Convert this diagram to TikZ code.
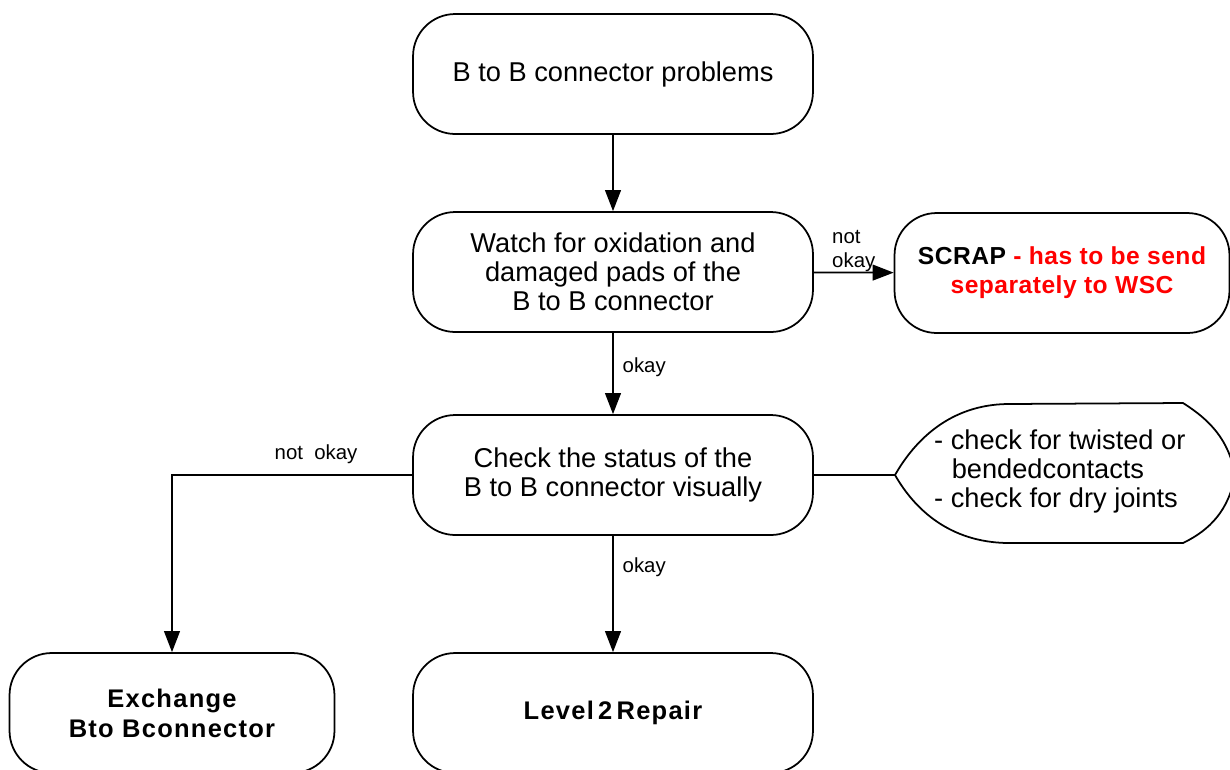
\documentclass[tikz,border=0pt]{standalone}
\usepackage{fontspec}
\setmainfont{Liberation Sans}
\usetikzlibrary{positioning,arrows.meta}

\begin{document}
\begin{tikzpicture}[x=0.02cm,y=-0.02cm]
	\tikzset{every node/.style={font=\fontsize{15.5}{16.5}\selectfont}}
	\tikzset{flowbox/.style={draw,line width=1pt,rounded corners=24pt,align=center,minimum width=8cm,minimum height=2.4cm,inner sep=2pt}}
	\tikzset{boldtxt/.style={font=\fontsize{14.5}{17}\selectfont\bfseries\addfontfeatures{LetterSpace=5}}}
	\tikzset{lbl/.style={font=\fontsize{11.6}{13.5}\selectfont,inner sep=1pt}}
	\tikzset{flow/.style={line width=1pt,-{Triangle[length=12pt,width=9pt]}}}
	\useasboundingbox (0,0) rectangle (1230,769);
	\node[flowbox] (problems) at (613,74) {B to B connector problems};
	\node[flowbox] (watch) at (613,272) {Watch for oxidation and\\damaged pads of the\\B to B connector};
	\node[flowbox,minimum width=6.7cm,font=\fontsize{14}{16.5}\selectfont\bfseries\addfontfeatures{LetterSpace=2}] (scrap) at (1062,273) {SCRAP \textcolor{red}{- has to be send}\\\textcolor{red}{separately to WSC}};
	\node[flowbox] (check) at (613,475) {Check the status of the\\B to B connector visually};
	\node[flowbox,boldtxt,minimum width=6.5cm] (exchange) at (172,713) {Exchange\\Bto Bconnector};
	\node[flowbox,boldtxt] (repair) at (613,713) {Level\,2\,Repair};
	% note shape on the right
	\draw[line width=1pt] (895,475) coordinate (notetip) .. controls (915,440) and (950,405) .. (1007,404) -- (1183,403) .. controls (1210,420) and (1229,440) .. (1235,475) .. controls (1229,510) and (1210,530) .. (1183,543) -- (1007,543) .. controls (950,542) and (915,510) .. cycle;
	\node[anchor=west,align=left] (note) at (928,471) {- check for twisted or\\\hspace*{10pt}bendedcontacts\\- check for dry joints};
	\draw[flow] (problems) -- (watch);
	\draw[flow] (watch) -- node[lbl,right=4pt,pos=0.42] {okay} (check);
	\draw[flow] (watch) -- node[lbl,above,align=left,inner sep=0pt] {not\\okay} (scrap);
	\draw[flow] (check) -- node[lbl,right=4pt,pos=0.27] {okay} (repair);
	\draw[flow] (check.west) -| node[lbl,above=5pt,pos=0.2] {not\ \ okay} (exchange.north);
	\draw[line width=1pt] (check) -- (notetip);
\end{tikzpicture}
\end{document}
